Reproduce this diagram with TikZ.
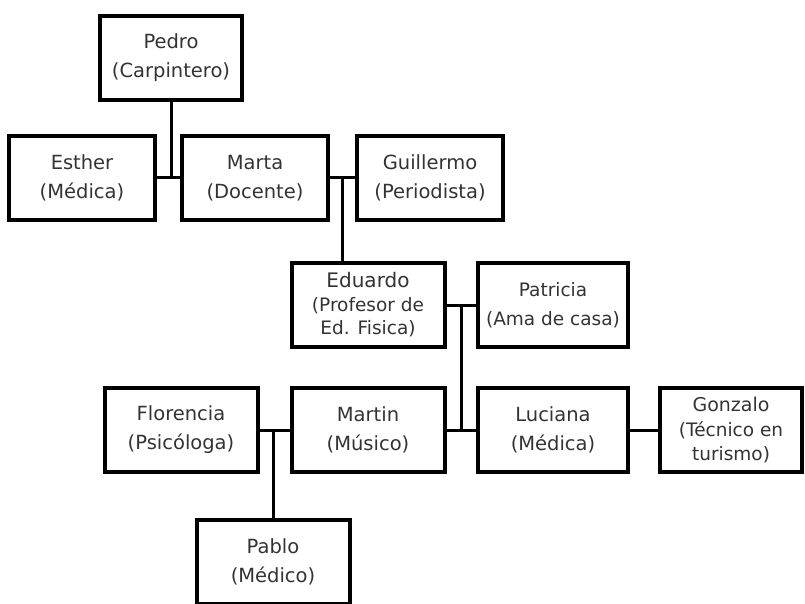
\documentclass[tikz,border=0pt]{standalone}
\usepackage{fontspec}
\setmainfont{DejaVu Sans}
\usetikzlibrary{calc}

\begin{document}
\begin{tikzpicture}[x=1pt,y=-1pt,
      main node/.style={draw,rectangle,line width=4pt,minimum width=146pt,
        minimum height=84pt,align=center,text=black!80,
        font=\fontsize{19.5}{29}\selectfont},
      every edge/.style={draw,line width=3pt}]
    \useasboundingbox (0,0) rectangle (805,604);
    % generation 1 and 2
    \node[main node,minimum width=142pt] (Pedro) at (171,58) {Pedro\\(Carpintero)};
    \node[main node] (Esther) at (82,178) {Esther\\(Médica)};
    \node[main node] (Marta) at (255,178) {Marta\\(Docente)};
    \node[main node] (Guillermo) at (430,178) {Guillermo\\(Periodista)};
    % generation 3
    \node[main node,minimum width=153pt,font=\fontsize{20}{23.5}\selectfont] (Eduardo) at (368,305)
      {Eduardo\\\fontsize{18.5}{23.5}\selectfont(Profesor de\\\fontsize{18.5}{23.5}\selectfont Ed. Fisica)};
    \node[main node,minimum width=150pt,font=\fontsize{18.5}{29}\selectfont] (Patricia) at (553,305)
      {Patricia\\(Ama de casa)};
    % generation 4
    \node[main node,minimum width=153pt] (Florencia) at (181,430) {Florencia\\(Psicóloga)};
    \node[main node,minimum width=153pt] (Martin) at (368,430) {Martin\\(Músico)};
    \node[main node,minimum width=150pt] (Luciana) at (553,430) {Luciana\\(Médica)};
    \node[main node,minimum width=142pt,font=\fontsize{19}{24.5}\selectfont] (Gonzalo) at (731,430)
      {Gonzalo\\\fontsize{18.5}{24.5}\selectfont(Técnico en\\\fontsize{18.5}{24.5}\selectfont turismo)};
    % generation 5
    \node[main node,minimum width=153pt] (Pablo) at (273,562) {Pablo\\(Médico)};
    % junctions
    \coordinate (EM) at (Pedro.south |- Esther.east);
    \coordinate (MG) at ($(Marta.east)!0.5!(Guillermo.west)$);
    \coordinate (EP) at ($(Eduardo.east)!0.5!(Patricia.west)$);
    \coordinate (ML) at ($(Martin.east)!0.5!(Luciana.west)$);
    \coordinate (FM) at (Pablo.north |- Florencia.east);
    \path
         (Esther.east) edge (Marta.west)
         (Pedro.south) edge (EM)
         (Marta.east) edge (Guillermo.west)
         (MG) edge (MG |- Eduardo.north)
         (Eduardo.east) edge (Patricia.west)
         (EP) edge (ML)
         (Martin.east) edge (Luciana.west)
         (Luciana.east) edge (Gonzalo.west)
         (Florencia.east) edge (Martin.west)
         (FM) edge (Pablo.north);
  \end{tikzpicture}
\end{document}
